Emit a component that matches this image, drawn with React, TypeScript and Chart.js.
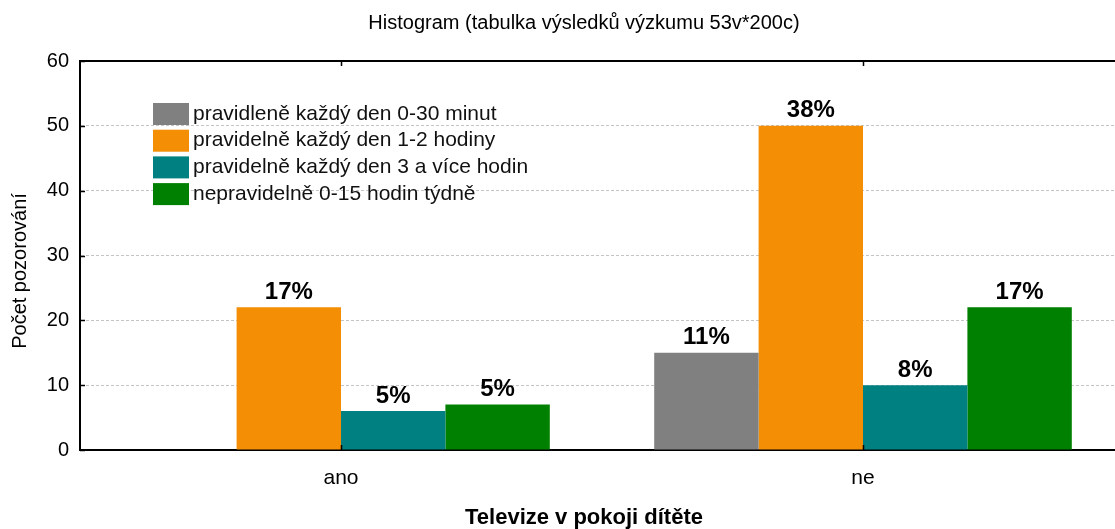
import React, { useEffect, useRef } from "react";
import { Chart, registerables } from "chart.js";

Chart.register(...registerables);

const titleText = "Histogram (tabulka výsledků výzkumu 53v*200c)";
const xTitleText = "Televize v pokoji dítěte";
const yTitleText = "Počet pozorování";

const categories = ["ano", "ne"];
const seriesNames = [
  "pravidleně každý den 0-30 minut",
  "pravidelně každý den 1-2 hodiny",
  "pravidelně každý den 3 a více hodin",
  "nepravidelně 0-15 hodin týdně",
];
const seriesColors = ["#808080", "#F38E05", "#008080", "#008000"];

const grayValues = [0, 15];
const orangeValues = [22, 50];
const tealValues = [6, 10];
const greenValues = [7, 22];

const grayLabels = ["", "11%"];
const orangeLabels = ["17%", "38%"];
const tealLabels = ["5%", "8%"];
const greenLabels = ["5%", "17%"];

const yMin = 0;
const yMax = 60;
const yStep = 10;

const FONT = "'Liberation Sans', Arial, sans-serif";

const allValues = [grayValues, orangeValues, tealValues, greenValues];
const allLabels = [grayLabels, orangeLabels, tealLabels, greenLabels];

const decorPlugin = {
  id: "decor",
  afterDatasetsDraw(chart: any) {
    const { ctx, chartArea: a, scales } = chart;
    const xs = scales.x;
    const ys = scales.y;
    ctx.save();
    // top frame line
    ctx.strokeStyle = "#000";
    ctx.lineWidth = 2;
    ctx.beginPath();
    ctx.moveTo(a.left - 1, a.top);
    ctx.lineTo(a.right + 2, a.top);
    ctx.stroke();
    // inward ticks
    ctx.lineWidth = 1.5;
    ctx.beginPath();
    xs.ticks.forEach((_t: any, i: number) => {
      const px = Math.round(xs.getPixelForTick(i)) + 0.5;
      ctx.moveTo(px, a.bottom);
      ctx.lineTo(px, a.bottom - 5);
      ctx.moveTo(px, a.top);
      ctx.lineTo(px, a.top + 5);
    });
    ys.ticks.forEach((_t: any, i: number) => {
      const py = Math.round(ys.getPixelForTick(i)) + 0.5;
      ctx.moveTo(a.left, py);
      ctx.lineTo(a.left + 5, py);
    });
    ctx.stroke();

    // value labels
    ctx.fillStyle = "#000";
    ctx.font = `bold 24px ${FONT}`;
    ctx.textAlign = "center";
    ctx.textBaseline = "bottom";
    chart.data.datasets.forEach((_ds: any, di: number) => {
      const meta = chart.getDatasetMeta(di);
      meta.data.forEach((bar: any, i: number) => {
        const txt = allLabels[di][i];
        if (!txt) return;
        ctx.fillText(txt, bar.x, bar.y - 3);
      });
    });

    // legend
    const lx = a.left + 73;
    const ly = a.top + 42;
    const rowH = 26.7;
    ctx.font = `21px ${FONT}`;
    ctx.textAlign = "left";
    ctx.textBaseline = "middle";
    chart.data.datasets.forEach((ds: any, di: number) => {
      const top = ly + di * rowH;
      ctx.fillStyle = ds.backgroundColor;
      ctx.fillRect(lx, top, 36, 22);
      ctx.fillStyle = "#111";
      ctx.fillText(ds.label, lx + 40, top + 11);
    });

    // y axis title
    ctx.save();
    ctx.translate(20, 271);
    ctx.rotate(-Math.PI / 2);
    ctx.font = `20px ${FONT}`;
    ctx.textAlign = "center";
    ctx.textBaseline = "middle";
    ctx.fillStyle = "#000";
    ctx.fillText(yTitleText, 0, 0);
    ctx.restore();

    ctx.restore();
  },
};

export default function App() {
  const canvasRef = useRef<HTMLCanvasElement | null>(null);

  useEffect(() => {
    const canvas = canvasRef.current;
    if (!canvas) return;
    const chart = new Chart(canvas, {
      type: "bar",
      data: {
        labels: categories,
        datasets: seriesNames.map((name, i) => ({
          label: name,
          data: allValues[i],
          backgroundColor: seriesColors[i],
          borderWidth: 0,
          barPercentage: 1,
          categoryPercentage: 0.8,
        })),
      },
      options: {
        responsive: false,
        animation: false,
        layout: { padding: 0 },
        plugins: {
          legend: { display: false },
          tooltip: { enabled: false },
          title: {
            display: true,
            text: titleText,
            color: "#000",
            font: { family: FONT, size: 20, weight: "normal", lineHeight: 1.2 },
            padding: { top: 11, bottom: 26 },
          },
          subtitle: {
            display: true,
            position: "bottom",
            text: xTitleText,
            color: "#000",
            font: { family: FONT, size: 22, weight: "bold", lineHeight: 1 },
            padding: { top: 0, bottom: 0 },
          },
        },
        scales: {
          x: {
            grid: { display: false, drawTicks: false },
            border: { display: true, color: "#000", width: 2 },
            ticks: {
              color: "#000",
              font: { family: FONT, size: 21 },
              padding: 16,
            },
            afterFit: (s: any) => {
              s.height = 57;
            },
          },
          y: {
            min: yMin,
            max: yMax,
            grid: {
              drawTicks: false,
              color: (c: any) =>
                c.tick && (c.tick.value === yMin || c.tick.value === yMax)
                  ? "rgba(0,0,0,0)"
                  : "#c4c4c4",
              lineWidth: 1,
            },
            border: { display: true, color: "#000", width: 2, dash: [3, 2] },
            ticks: {
              stepSize: yStep,
              color: "#000",
              font: { family: FONT, size: 20 },
              padding: 11,
            },
            afterFit: (s: any) => {
              s.width = 80;
            },
          },
          y2: {
            position: "right",
            display: true,
            grid: { display: false, drawTicks: false },
            border: { display: false },
            ticks: { display: false },
            afterFit: (s: any) => {
              s.width = 44;
            },
          },
        },
      },
      plugins: [decorPlugin],
    });
    return () => chart.destroy();
  }, []);

  return (
    <div
      style={{
        position: "fixed",
        left: 0,
        top: 0,
        width: 1115,
        height: 529,
        overflow: "hidden",
        background: "#fff",
      }}
    >
      <canvas
        ref={canvasRef}
        width={1168}
        height={529}
        style={{ display: "block", width: 1168, height: 529 }}
      />
    </div>
  );
}
